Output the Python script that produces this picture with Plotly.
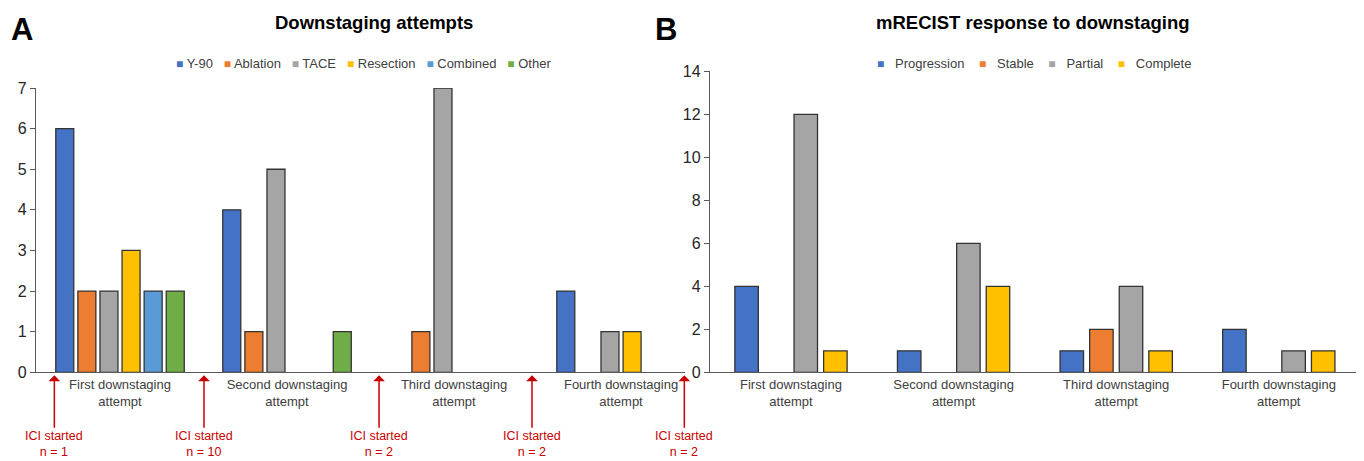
import plotly.graph_objects as go

# ---------------- data ----------------
categories = ["First downstaging<br>attempt", "Second downstaging<br>attempt",
              "Third downstaging<br>attempt", "Fourth downstaging<br>attempt"]

# Panel A: downstaging attempts by modality
a_series = ["Y-90", "Ablation", "TACE", "Resection", "Combined", "Other"]
a_y90 = [6, 4, 0, 2]
a_ablation = [2, 1, 1, 0]
a_tace = [2, 5, 7, 1]
a_resection = [3, 0, 0, 1]
a_combined = [2, 0, 0, 0]
a_other = [2, 1, 0, 0]
a_colors = ["#4472C4", "#ED7D31", "#A5A5A5", "#FFC000", "#5B9BD5", "#70AD47"]

# Panel B: mRECIST response
b_series = ["Progression", "Stable", "Partial", "Complete"]
b_progression = [4, 1, 1, 2]
b_stable = [0, 0, 2, 0]
b_partial = [12, 6, 4, 1]
b_complete = [1, 4, 1, 1]
b_colors = ["#4472C4", "#ED7D31", "#A5A5A5", "#FFC000"]

# ICI start markers (between attempts, in panel-A category units)
ici_positions = [-0.393, 0.503, 1.551, 2.467, 3.379]
ici_counts = [1, 10, 2, 2, 2]

FONT = "Liberation Sans, Arial, Helvetica, sans-serif"
OUTLINE = "#333333"
AXIS = "#595959"
RED = "#C80000"
VW, VH = 1364, 461          # browser window
OFF = 8                     # default page body margin
FW, FH = VW - OFF, VH - OFF  # figure size so it fits the window


def px(X):
    return (X - OFF) / FW


def py(Y):
    return 1 - (Y - OFF) / FH


fig = go.Figure()


def add_group(series_names, values, colors, xref, yref, pitch, width):
    n = len(series_names)
    for k, (name, vals, col) in enumerate(zip(series_names, values, colors)):
        off = (k - n / 2) * pitch + (pitch - width) / 2
        fig.add_trace(go.Bar(
            x=categories, y=[v if v else None for v in vals], name=name,
            xaxis=xref, yaxis=yref, width=width, offset=off,
            marker=dict(color=col, line=dict(color=OUTLINE, width=1.3)),
            showlegend=False, hoverinfo="x+y+name"))


add_group(a_series, [a_y90, a_ablation, a_tace, a_resection, a_combined, a_other],
          a_colors, "x", "y", 0.1323, 0.1078)
add_group(b_series, [b_progression, b_stable, b_partial, b_complete],
          b_colors, "x2", "y2", 0.182, 0.1445)

common_x = dict(showline=True, linecolor=AXIS, linewidth=1.4, ticks="",
                showgrid=False, zeroline=False, tickangle=0, automargin=False,
                tickfont=dict(family=FONT, size=13, color="#404040"),
                fixedrange=True)
common_y = dict(showline=True, linecolor=AXIS, linewidth=1.4, ticks="outside",
                ticklen=5, tickwidth=1.2, tickcolor=AXIS, showgrid=False,
                zeroline=False, automargin=False,
                tickfont=dict(family=FONT, size=16, color="#262626"),
                fixedrange=True)

fig.update_layout(
    width=FW, height=FH, barmode="overlay",
    margin=dict(l=0, r=0, t=0, b=0, pad=0, autoexpand=False),
    paper_bgcolor="white", plot_bgcolor="white",
    showlegend=False,
    xaxis=dict(domain=[px(36), px(685)], range=[-0.503, 3.383], anchor="y", **common_x),
    yaxis=dict(domain=[py(372.3), py(88)], range=[0, 7], dtick=1,
               anchor="x", **common_y),
    xaxis2=dict(domain=[px(710), 1.0], range=[-0.498, 3.524], anchor="y2", **common_x),
    yaxis2=dict(domain=[py(372.3), py(71.3)], range=[0, 14], dtick=2,
                anchor="x2", **common_y),
)

ann = []


def txt(text, X, Y, size, color="black"):
    return dict(text=text, x=px(X), y=py(Y), xref="paper", yref="paper",
                xanchor="center", yanchor="middle", showarrow=False,
                font=dict(family=FONT, size=size, color=color))


# Panel letters
ann.append(txt("<b>A</b>", 22, 29, 31))
ann.append(txt("<b>B</b>", 666, 29, 31))
# Titles
ann.append(txt("<b>Downstaging attempts</b>", 374, 23, 18.5))
ann.append(txt("<b>mRECIST response to downstaging</b>", 1033, 23, 18.5))


def legend_text(names, colors, inner, sep):
    parts = []
    for n, c in zip(names, colors):
        parts.append('<span style="font-size:12px;color:%s">\u25A0</span>%s%s' % (c, inner, n))
    return sep.join(parts)


ann.append(txt(legend_text(a_series, a_colors, " ", "   "), 363, 64, 13, "#404040"))
ann.append(txt(legend_text(b_series, b_colors, "   ", "    "), 1034, 64, 13, "#404040"))

# ICI started arrows
for pos, n in zip(ici_positions, ici_counts):
    ann.append(dict(text="ICI started<br>n = %d" % n, x=pos, y=0, xref="x", yref="y",
                    xanchor="center", yanchor="middle",
                    showarrow=True, ax=0, ay=72, axref="pixel", ayref="pixel",
                    arrowhead=1, arrowsize=1.3, arrowwidth=1.5, arrowcolor=RED,
                    standoff=3, font=dict(family=FONT, size=12.5, color=RED)))

fig.update_layout(annotations=ann)
fig.write_html("out.html")
